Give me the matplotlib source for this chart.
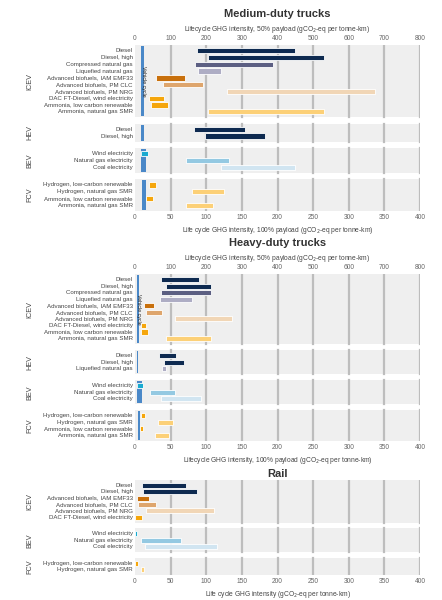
import matplotlib
matplotlib.use("Agg")
import matplotlib.pyplot as plt
plt.rcParams['font.family']=['Liberation Sans Narrow','Liberation Sans','DejaVu Sans']

NAVY="#0e2a50"; CNG="#5c5f82"; LNG="#aeadc4"; IAM="#c8700c"; CLC="#dea56c"; NRG="#f1d6b6"
ORA="#f5a60c"; AMS="#fcd077"; WIND="#19aad0"; NGE="#94c9e2"; COAL="#d1e5f1"; VEH="#4a88c8"

# Medium-duty trucks (values on 100% payload scale)
md_icev_labels=["Diesel","Diesel, high","Compressed natural gas","Liquefied natural gas","Advanced biofuels, IAM EMF33","Advanced biofuels, PM CLC","Advanced biofuels, PM NRG","DAC FT-Diesel, wind electricity","Ammonia, low carbon renewable","Ammonia, natural gas SMR"]
md_icev_lo=[87,102,84,89,30,39,129,20,22,102]
md_icev_hi=[224,265,194,120,70,96,337,40,47,265]
md_hev_labels=["Diesel","Diesel, high"]
md_hev_lo=[83,98]; md_hev_hi=[154,182]
md_bev_labels=["Wind electricity","Natural gas electricity","Coal electricity"]
md_bev_lo=[9,72,121]; md_bev_hi=[18,132,225]
md_fcv_labels=["Hydrogen, low-carbon renewable","Hydrogen, natural gas SMR","Ammonia, low carbon renewable","Ammonia, natural gas SMR"]
md_fcv_lo=[20,80,16,71]; md_fcv_hi=[30,125,25,109]
md_vehicle=[(8.5,13),(9,12),(9,16),(10,16)]

# Heavy-duty trucks
hd_icev_labels=md_icev_labels
hd_icev_lo=[37,44,36,35,12,16,56,8,9,44]
hd_icev_hi=[90,106,107,80,27,38,136,16,18,106]
hd_hev_labels=["Diesel","Diesel, high","Liquefied natural gas"]
hd_hev_lo=[34,40,38]; hd_hev_hi=[58,69,43]
hd_bev_labels=md_bev_labels
hd_bev_lo=[3,21,36]; hd_bev_hi=[11,56,93]
hd_fcv_labels=md_fcv_labels
hd_fcv_lo=[8,32,6.5,28]; hd_fcv_hi=[13.5,54,11.5,48]
hd_vehicle=[(2.5,5),(2.5,4.5),(2.5,10),(4,7)]

# Rail
rail_icev_labels=["Diesel","Diesel, high","Advanced biofuels, IAM EMF33","Advanced biofuels, PM CLC","Advanced biofuels, PM NRG","DAC FT-Diesel, wind electricity"]
rail_icev_lo=[10,11,3,4,15.5,0]; rail_icev_hi=[72,87,20,29,111,10]
rail_bev_labels=md_bev_labels
rail_bev_lo=[0,8,14]; rail_bev_hi=[3,65,115]
rail_fcv_labels=["Hydrogen, low-carbon renewable","Hydrogen, natural gas SMR"]
rail_fcv_lo=[0,9]; rail_fcv_hi=[4,13]

icev_c=[NAVY,NAVY,CNG,LNG,IAM,CLC,NRG,ORA,ORA,AMS]
hev_c=[NAVY,NAVY,LNG]
bev_c=[WIND,NGE,COAL]
fcv_c=[ORA,AMS,ORA,AMS]
rail_icev_c=[NAVY,NAVY,IAM,CLC,NRG,ORA]

TXT="#444444"
FS=4.8
fig=plt.figure(figsize=(4.42,6),dpi=100)
fig.patch.set_facecolor("white")

def panel(rect, groups, vehicle, title, sub_top, xlabel, top_axis=True):
    ax=fig.add_axes(rect)
    ax.set_facecolor("white")
    pad=0.35; gap=0.9
    y=0; spans=[]
    for name,labels,lo,hi,cols in groups:
        top=y; y+=pad
        ys=[]
        for i in range(len(labels)):
            ys.append(y+0.5); y+=1
        y+=pad
        spans.append((top,y,ys))
        y+=gap
    total=y-gap
    for gi,(name,labels,lo,hi,cols) in enumerate(groups):
        top,bot,ys=spans[gi]
        ax.fill_between([0,400],top,bot,color="#efefef",zorder=0,lw=0)
        for gx in range(50,401,50):
            ax.plot([gx,gx],[top,bot],color="#bdbdbd",lw=1.6,zorder=1)
        for yy,lab,l,h,c in zip(ys,labels,lo,hi,cols):
            ax.barh(yy,h-l,left=l,height=0.78,color=c,edgecolor="white",lw=0.6,zorder=3)
            ax.text(-3,yy,lab,ha="right",va="center",fontsize=4.4,color=TXT)
        if vehicle is not None:
            vl,vh=vehicle[gi]
            ax.barh((top+bot)/2,vh-vl,left=vl,height=bot-top-0.3,color=VEH,lw=0,zorder=2)
            if gi==0:
                ax.text((vl+vh)/2+1.5,(top+bot)/2,"Vehicle cycle",rotation=-90,ha="center",va="center",fontsize=3.8,color="#222222",zorder=4)
        ax.text(-147,(top+bot)/2,name,rotation=90,ha="center",va="center",fontsize=5.2,color=TXT)
    ax.set_xlim(0,400); ax.set_ylim(total,0)
    for s in ax.spines.values(): s.set_visible(False)
    ax.set_yticks([])
    ax.set_xticks(range(0,401,50))
    ax.tick_params(axis="x",length=0,labelsize=FS,labelcolor="#666666",pad=2)
    ax.set_xlabel(xlabel,fontsize=FS,color=TXT,labelpad=3)
    if top_axis:
        sec=ax.secondary_xaxis("top",functions=(lambda v:v*2,lambda v:v/2))
        sec.set_xticks(range(0,801,100))
        sec.tick_params(length=0,labelsize=FS,labelcolor="#666666",pad=2)
        for s in sec.spines.values(): s.set_visible(False)
        sec.set_xlabel(sub_top,fontsize=FS,color=TXT,labelpad=3)
        ax.set_title(title,fontsize=8,fontweight="bold",color="#333333",pad=20)
    else:
        ax.set_title(title,fontsize=8,fontweight="bold",color="#333333",pad=2)
    return ax

L=135/442; W=285/442
panel([L,1-211/600,W,166/600],
      [("ICEV",md_icev_labels,md_icev_lo,md_icev_hi,icev_c),
       ("HEV",md_hev_labels,md_hev_lo,md_hev_hi,hev_c[:2]),
       ("BEV",md_bev_labels,md_bev_lo,md_bev_hi,bev_c),
       ("FCV",md_fcv_labels,md_fcv_lo,md_fcv_hi,fcv_c)],
      md_vehicle,"Medium-duty trucks","Lifecycle GHG intensity, 50% payload (gCO$_2$-eq per tonne-km)",
      "Life cycle GHG intensity, 100% payload (gCO$_2$-eq per tonne-km)")
panel([L,1-441/600,W,167/600],
      [("ICEV",hd_icev_labels,hd_icev_lo,hd_icev_hi,icev_c),
       ("HEV",hd_hev_labels,hd_hev_lo,hd_hev_hi,hev_c),
       ("BEV",hd_bev_labels,hd_bev_lo,hd_bev_hi,bev_c),
       ("FCV",hd_fcv_labels,hd_fcv_lo,hd_fcv_hi,fcv_c)],
      hd_vehicle,"Heavy-duty trucks","Lifecycle GHG intensity, 50% payload (gCO$_2$-eq per tonne-km)",
      "Lifecycle GHG intensity, 100% payload (gCO$_2$-eq per tonne-km)")
panel([L,1-575/600,W,95/600],
      [("ICEV",rail_icev_labels,rail_icev_lo,rail_icev_hi,rail_icev_c),
       ("BEV",rail_bev_labels,rail_bev_lo,rail_bev_hi,bev_c),
       ("FCV",rail_fcv_labels,rail_fcv_lo,rail_fcv_hi,[ORA,AMS])],
      None,"Rail",None,"Life cycle GHG intensity (gCO$_2$-eq per tonne-km)",top_axis=False)
fig.savefig("out.png",dpi=100,facecolor="white")
